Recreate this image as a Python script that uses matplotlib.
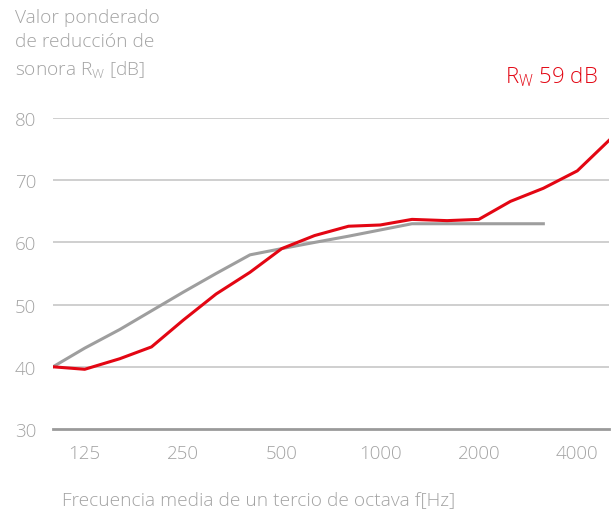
import matplotlib
matplotlib.use("Agg")
import matplotlib.pyplot as plt

plt.rcParams['font.family'] = ['Open Sans', 'DejaVu Sans']
plt.rcParams['font.weight'] = 'light'
plt.rcParams['mathtext.fontset'] = 'custom'
plt.rcParams['mathtext.rm'] = 'Open Sans:light'
plt.rcParams['mathtext.it'] = 'Open Sans:light'

# third-octave centre frequencies
freq = [100, 125, 160, 200, 250, 315, 400, 500, 630, 800, 1000,
        1250, 1600, 2000, 2500, 3150, 4000, 5000]
# measured sound reduction index
rw_meas = [40.0, 39.6, 41.3, 43.2, 47.5, 51.7, 55.2, 59.0, 61.1, 62.6, 62.8,
           63.7, 63.5, 63.7, 66.6, 68.7, 71.5, 76.4]
# shifted reference curve (ISO 717-1), 100..3150 Hz
freq_ref = freq[:16]
rw_ref = [40, 43, 46, 49, 52, 55, 58, 59, 60, 61, 62, 63, 63, 63, 63, 63]

xticks = [125, 250, 500, 1000, 2000, 4000]
yticks = [30, 40, 50, 60, 70, 80]

grey_txt = '#a3a3a3'
red = '#e30613'

fig = plt.figure(figsize=(6.12, 5.10), dpi=100)
ax = fig.add_axes([53/612, 1-430/510, (609-53)/612, (430-119)/510])

for y in yticks[1:]:
    ax.axhline(y, color='#cccccc', lw=1.3, zorder=1)
ax.axhline(30, color='#9a9a9a', lw=2.0, zorder=1, clip_on=False)

ax.plot(freq_ref, rw_ref, color='#9e9e9e', lw=2.2, zorder=2)
ax.plot(freq, rw_meas, color=red, lw=2.2, zorder=3)

ax.set_xscale('log')
ax.set_xlim(100, 5000)
ax.set_ylim(30, 80)
ax.set_xticks(xticks)
ax.set_xticklabels([str(t) for t in xticks])
ax.minorticks_off()
ax.set_yticks(yticks)
ax.tick_params(axis='both', length=0, colors=grey_txt, labelsize=13.5)
ax.tick_params(axis='y', pad=12)
ax.tick_params(axis='x', pad=11)
for s in ax.spines.values():
    s.set_visible(False)

fig.text(15/612, 1-9/510, 'Valor ponderado\nde reducción de\nsonora $\\mathregular{R_W}$ [dB]',
         ha='left', va='top', fontsize=13.8, color=grey_txt, linespacing=1.45)
fig.text(62/612, 1-500/510, 'Frecuencia media de un tercio de octava f[Hz]',
         ha='left', va='center', fontsize=13.8, color=grey_txt)
fig.text(598/612, 1-77/510, '$\\mathregular{R_W}$ 59 dB',
         ha='right', va='center', fontsize=16, color=red)

fig.savefig('out.png', dpi=100)
